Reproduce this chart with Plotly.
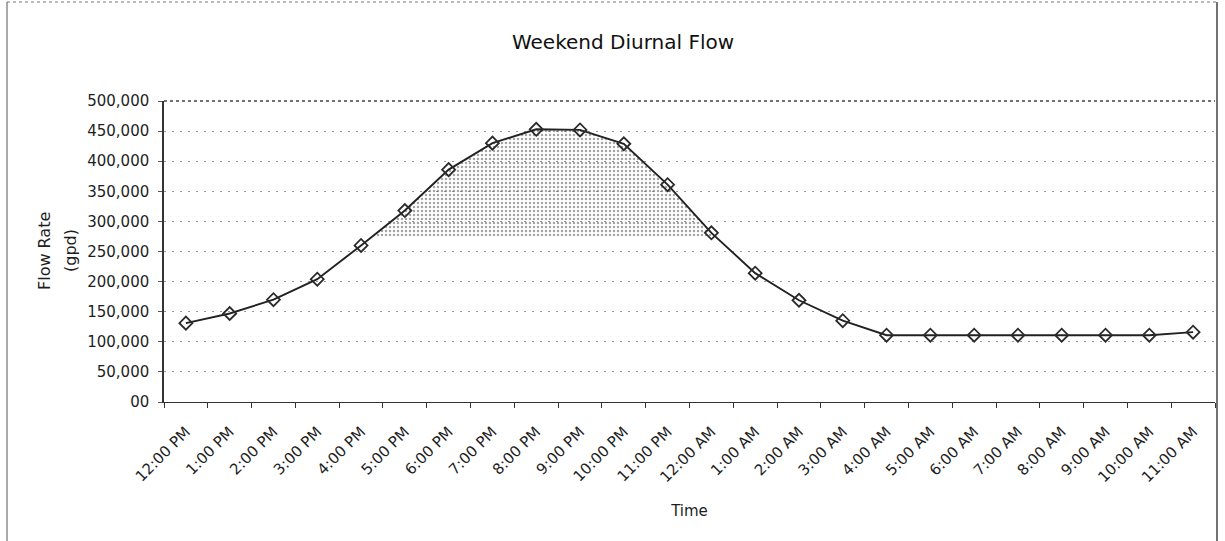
import plotly.graph_objects as go

# Hourly weekend flow, noon to 11 AM next day
hours = ["12:00 PM", "1:00 PM", "2:00 PM", "3:00 PM", "4:00 PM", "5:00 PM",
         "6:00 PM", "7:00 PM", "8:00 PM", "9:00 PM", "10:00 PM", "11:00 PM",
         "12:00 AM", "1:00 AM", "2:00 AM", "3:00 AM", "4:00 AM", "5:00 AM",
         "6:00 AM", "7:00 AM", "8:00 AM", "9:00 AM", "10:00 AM", "11:00 AM"]
flow_gpd = [131000, 147000, 170000, 204000, 260000, 318000,
            386000, 430000, 453000, 452000, 429000, 361000,
            281000, 214000, 169000, 135000, 111000, 111000,
            111000, 111000, 111000, 111000, 111000, 116000]

y_ticks = [0, 50000, 100000, 150000, 200000, 250000, 300000, 350000, 400000, 450000, 500000]
y_tick_text = ["00", "50,000", "100,000", "150,000", "200,000", "250,000",
               "300,000", "350,000", "400,000", "450,000", "500,000"]

PEAK_LEVEL = 275000  # lower edge of the shaded peak band

W, H = 1225, 541
ML, MR, MT, MB = 164, 10, 101, 139
FONT = "DejaVu Sans, Liberation Sans, Arial, sans-serif"
TXT = "#1e1e1e"

xs = list(range(len(hours)))

# Shaded region: part of the curve that lies above PEAK_LEVEL
band_x, band_y = [], []
for i in range(len(flow_gpd)):
    v = flow_gpd[i]
    if i > 0:
        p = flow_gpd[i - 1]
        if (p < PEAK_LEVEL) != (v < PEAK_LEVEL):
            t = (PEAK_LEVEL - p) / (v - p)
            band_x.append(i - 1 + t)
            band_y.append(PEAK_LEVEL)
    if v >= PEAK_LEVEL:
        band_x.append(i)
        band_y.append(v)

fig = go.Figure()

fig.add_trace(go.Scatter(
    x=band_x, y=band_y, mode="lines", fill="toself",
    line=dict(width=0, color="rgba(0,0,0,0)"),
    fillcolor="rgba(255,255,255,0)",
    fillpattern=dict(shape=".", fgcolor="#4a4a4a", bgcolor="rgba(255,255,255,0)",
                     size=4, solidity=0.3),
    hoverinfo="skip", showlegend=False,
))

fig.add_trace(go.Scatter(
    x=xs, y=flow_gpd, mode="lines+markers",
    line=dict(color="#222222", width=1.9),
    marker=dict(symbol="diamond-open", size=10, color="#2a2a2a",
                line=dict(width=1.8, color="#2a2a2a")),
    showlegend=False,
))

plot_w = W - ML - MR
plot_h = H - MT - MB
px = lambda p: (p - ML) / plot_w
py = lambda p: (H - MB - p) / plot_h

fig.update_layout(
    width=W, height=H,
    margin=dict(l=ML, r=MR, t=MT, b=MB),
    paper_bgcolor="white", plot_bgcolor="white",
    font=dict(family=FONT, color=TXT, size=15),
    title=dict(text="Weekend Diurnal Flow", x=623 / W, xanchor="center",
               y=1 - 42 / H, yanchor="middle",
               font=dict(size=20, family=FONT, color="#111111")),
    xaxis=dict(
        range=[-0.5, len(hours) - 0.5],
        tickmode="array", tickvals=xs, ticktext=hours,
        tickangle=-45, ticks="", showgrid=False, zeroline=False,
        ticklabelstandoff=14,
        showline=True, linecolor="#333333", linewidth=1.3,
        tickfont=dict(size=15, family=FONT, color=TXT),
        minor=dict(tick0=-0.5, dtick=1, ticks="outside", ticklen=5,
                   tickcolor="#333333", showgrid=False),
        title=dict(text="Time", standoff=20,
                   font=dict(size=15, family=FONT, color=TXT)),
    ),
    yaxis=dict(
        range=[0, 500000],
        tickmode="array", tickvals=y_ticks, ticktext=y_tick_text,
        ticks="outside", ticklen=4, tickcolor="#555555",
        ticklabelstandoff=6,
        showgrid=True, gridcolor="#999999", griddash="2px,6px", gridwidth=1,
        zeroline=False,
        showline=True, linecolor="#333333", linewidth=1.5,
        tickfont=dict(size=15, family=FONT, color=TXT),
    ),
    annotations=[
        dict(text="Flow Rate", textangle=-90, xref="paper", yref="paper",
             x=px(44), y=py(251), xanchor="center", yanchor="middle",
             showarrow=False, font=dict(size=16, family=FONT, color=TXT)),
        dict(text="(gpd)", textangle=-90, xref="paper", yref="paper",
             x=px(70), y=py(251), xanchor="center", yanchor="middle",
             showarrow=False, font=dict(size=16, family=FONT, color=TXT)),
    ],
    shapes=[
        # plot area top and right edges
        dict(type="line", xref="paper", yref="paper", x0=0, x1=1, y0=1, y1=1,
             line=dict(color="#444444", width=1.3, dash="dot")),
        dict(type="line", xref="paper", yref="paper", x0=px(1217), x1=px(1217),
             y0=py(2), y1=py(H + 5), line=dict(color="#444444", width=1.5)),
        # outer chart frame
        dict(type="line", xref="paper", yref="paper", x0=px(7), x1=px(7),
             y0=py(2), y1=py(H + 5), line=dict(color="#555555", width=1)),
        dict(type="line", xref="paper", yref="paper", x0=px(7), x1=px(1217),
             y0=py(2), y1=py(2), line=dict(color="#777777", width=1, dash="dot")),
    ],
)

fig.write_html("out.html")
